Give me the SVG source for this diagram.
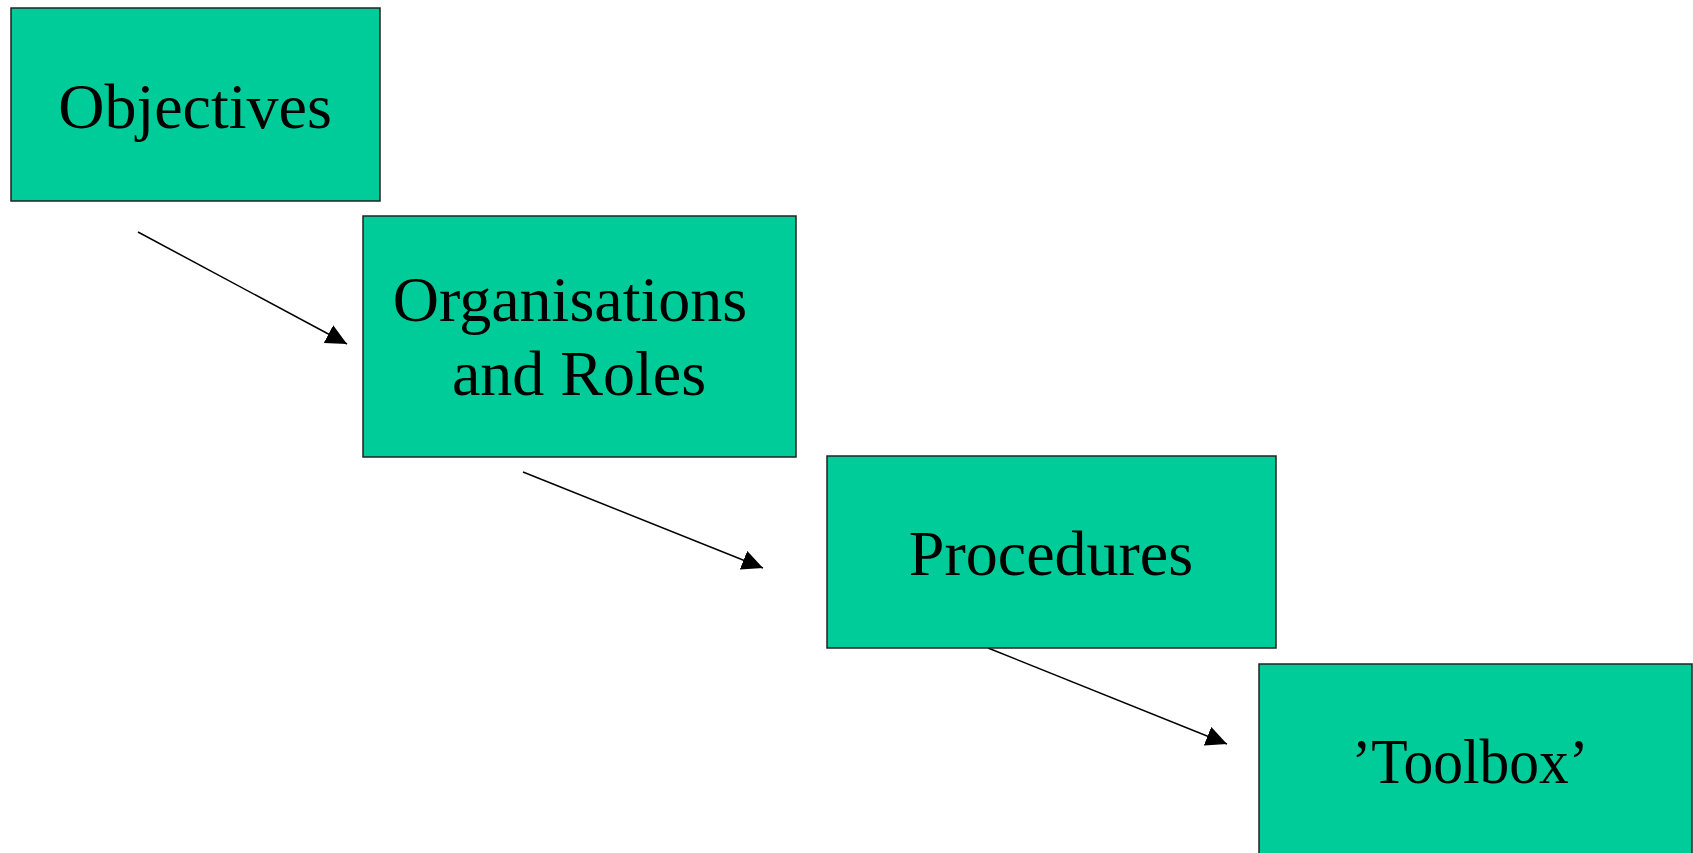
<svg xmlns="http://www.w3.org/2000/svg" width="1693" height="853" viewBox="0 0 1693 853">
<style>
.box{fill:#00CC99;stroke:#222;stroke-width:1.5}
.lbl{font-family:"Liberation Serif","Times New Roman",serif;font-size:64px;fill:#000;text-anchor:middle}
.conn{stroke:#000;stroke-width:1.5;fill:none;marker-end:url(#ah)}
</style>
<defs>
<marker id="ah" markerUnits="userSpaceOnUse" markerWidth="22" markerHeight="21" refX="21" refY="10" orient="auto">
<path d="M0,0 L21,10 L0,20 Z" fill="#000"/>
</marker>
</defs>
<rect width="1693" height="853" fill="#fff"/>
<g id="connectors">
<line class="conn" x1="138" y1="232" x2="347" y2="344"/>
<line class="conn" x1="523" y1="472" x2="763" y2="568"/>
<line class="conn" x1="988" y1="648" x2="1227" y2="744"/>
</g>
<g id="objectives">
<rect class="box" x="11" y="8" width="369" height="193"/>
<text class="lbl" x="195" y="128">Objectives</text>
</g>
<g id="organisations">
<rect class="box" x="363" y="216" width="433" height="241"/>
<text class="lbl" x="570" y="321">Organisations</text>
<text class="lbl" x="579" y="395">and Roles</text>
</g>
<g id="procedures">
<rect class="box" x="827" y="456" width="449" height="192"/>
<text class="lbl" x="1051" y="575">Procedures</text>
</g>
<g id="toolbox">
<rect class="box" x="1259" y="664" width="433" height="200"/>
<text class="lbl" x="1470" y="783" textLength="237" lengthAdjust="spacingAndGlyphs">’Toolbox’</text>
</g>
</svg>
